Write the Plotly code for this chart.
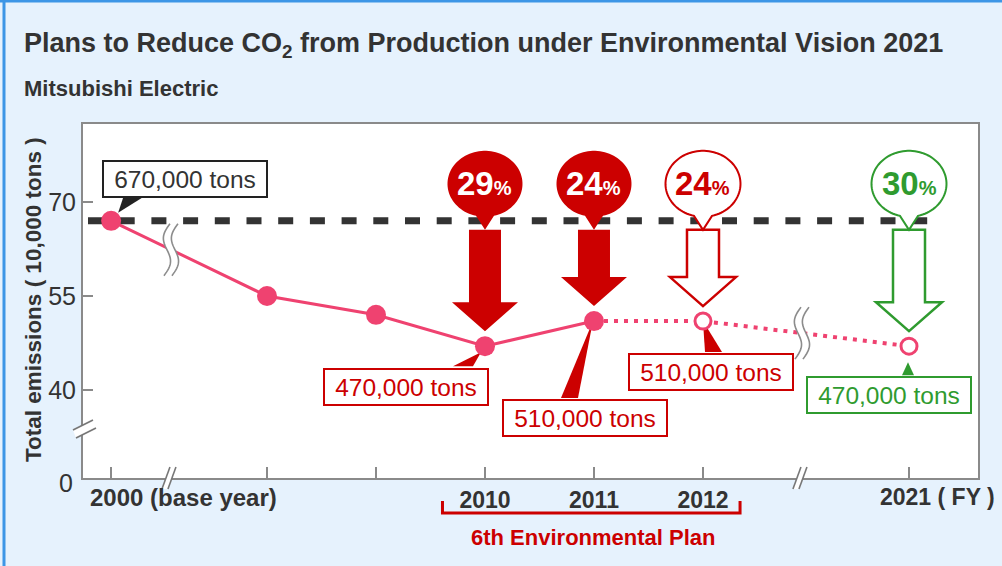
import numpy as np
import plotly.graph_objects as go

# ---------------- data ----------------
years = [2000, 2008, 2009, 2010, 2011, 2012, 2021]
emissions = [67, 55, 52, 47, 51, 51, 47]            # 10,000 tons
is_actual = [True, True, True, True, True, False, False]
x_tick_labels = ["2000 (base year)", "", "", "2010", "2011", "2012", "2021 ( FY )"]
y_tick_values = [70, 55, 40]
y_tick_labels = ["70", "55", "40"]
y_zero_label = "0"
base_year_value = 67
callout_years = [2010, 2011, 2012, 2021]
callout_pcts = [29, 24, 24, 30]
callout_styles = ["filled", "filled", "outline", "green"]
label_years = [2000, 2010, 2011, 2012, 2021]
label_texts = ["670,000 tons", "470,000 tons", "510,000 tons", "510,000 tons", "470,000 tons"]
label_styles = ["black", "red", "red", "red", "green"]
plan_years = [2010, 2011, 2012]
plan_name = "6th Environmental Plan"
title = "Plans to Reduce CO<sub>2</sub> from Production under Environmental Vision 2021"
subtitle = "Mitsubishi Electric"
y_title = "Total emissions ( 10,000 tons )"

# ---------------- layout constants ----------------
W_FIG, H_FIG = 1002, 566
L, R, T, B = 83, 24, 124, 88
PW, PH = W_FIG - L - R, H_FIG - T - B
FONT = "Liberation Sans, Arial, sans-serif"
DARK = "#333333"
PINK = "#ef4270"
RED = "#cc0000"
GREEN = "#2f9b2f"
AXIS = "#8a8a8a"

# broken x axis: years 2008-2012 are linear, with compressed gaps before/after
GAP_BEFORE, GAP_AFTER = 1.43, 1.89
def xpos(yr):
    if yr < 2008:
        return 2008 - GAP_BEFORE
    if yr <= 2012:
        return yr
    return 2012 + GAP_AFTER + (yr - 2021)

X = [xpos(y) for y in years]
x_range = [X[0] - 0.258, X[-1] + 0.633]
y_range = [25.96, 82.45]
PXY = PH / (y_range[1] - y_range[0])
PXX = PW / (x_range[1] - x_range[0])
break_x = [xpos(2008) - 0.881, xpos(2012) + 0.908]
break_y_value = 34.1

def pap_x(px):
    return (px - L) / PW
def pap_y(py):
    return (H_FIG - B - py) / PH

fig = go.Figure()

# baseline (base-year level) dashed line
fig.add_trace(go.Scatter(
    x=[x_range[0] + 5 / PXX, X[-1] + 0.3], y=[base_year_value] * 2, mode="lines",
    line=dict(color=DARK, width=7, dash="15px,16.7px"), hoverinfo="skip", showlegend=False))

last_actual = max(i for i, a in enumerate(is_actual) if a)
# projection (dotted)
fig.add_trace(go.Scatter(
    x=X[last_actual:], y=emissions[last_actual:], mode="lines",
    line=dict(color=PINK, width=4, dash="4px,6px"), hoverinfo="skip", showlegend=False))
# actual (solid)
fig.add_trace(go.Scatter(
    x=X[:last_actual + 1], y=emissions[:last_actual + 1], mode="lines+markers",
    line=dict(color=PINK, width=3), marker=dict(size=20, color=PINK),
    hoverinfo="skip", showlegend=False))

shapes = []
annotations = []

def poly(points):
    return "M " + " L ".join(f"{x:.2f},{y:.2f}" for x, y in points) + " Z"

def line_path(points):
    return "M " + " L ".join(f"{x:.2f},{y:.2f}" for x, y in points)

# label tails (below traces so markers sit on top)
tails = {
    2000: [(12, 23), (31, 23), (7, 8)],
    2010: [(-32, -20), (-12, -20), (-4, -6)],
    2011: [(-33, -77), (-16, -77), (-1, 0)],
    2012: [(2, -31), (19, -31), (0, 0)],
    2021: [(-7, -29), (5, -29), (-1, -16)],
}
box_offsets = {2000: (73.5, 41.5), 2010: (-78.5, -40.5), 2011: (-9, -97),
               2012: (8.5, -51), 2021: (-20.5, -49)}
style_col = {"black": "#222222", "red": RED, "green": GREEN}
for yr, txt, st in zip(label_years, label_texts, label_styles):
    i = years.index(yr)
    col = style_col[st]
    shapes.append(dict(type="path", xref="x", yref="y", xsizemode="pixel", ysizemode="pixel",
                       xanchor=X[i], yanchor=emissions[i], path=poly(tails[yr]),
                       fillcolor=col, line=dict(width=0), layer="below"))
    dx, dy = box_offsets[yr]
    annotations.append(dict(x=X[i], y=emissions[i], xref="x", yref="y", xshift=dx, yshift=dy,
                            xanchor="center", yanchor="middle",
                            text=txt, showarrow=False, width=162, height=34,
                            bgcolor="white", bordercolor=col, borderwidth=2, borderpad=0,
                            font=dict(family=FONT, size=24.5, color=DARK if st == "black" else col)))

# projected (open) markers
proj_idx = [i for i, a in enumerate(is_actual) if not a]
fig.add_trace(go.Scatter(
    x=[X[i] for i in proj_idx], y=[emissions[i] for i in proj_idx], mode="markers",
    marker=dict(size=16, color="white", line=dict(color=PINK, width=3)),
    hoverinfo="skip", showlegend=False))

# arrows and speech bubbles
HEAD_H, SHAFT_HW, HEAD_HW, TIP = 29, 16, 33, 15
for yr, pct, st in zip(callout_years, callout_pcts, callout_styles):
    i = years.index(yr)
    v = emissions[i]
    top = (base_year_value - v) * PXY - 9
    hb = TIP + HEAD_H
    arrow = [(-SHAFT_HW, top), (SHAFT_HW, top), (SHAFT_HW, hb), (HEAD_HW, hb), (0, TIP),
             (-HEAD_HW, hb), (-SHAFT_HW, hb)]
    col = GREEN if st == "green" else RED
    filled = st == "filled"
    shapes.append(dict(type="path", xref="x", yref="y", xsizemode="pixel", ysizemode="pixel",
                       xanchor=X[i], yanchor=v, path=poly(arrow),
                       fillcolor=col if filled else "white",
                       line=dict(color=col, width=0 if filled else 2.5), layer="above"))
    # bubble (ellipse + tail)
    cy, rx, ry, tail_hw, tail_tip = 37, 37.5, 33, 9, -9
    a0 = np.arccos(tail_hw / rx)
    angs = np.linspace(-a0, -np.pi + a0 + 2 * np.pi, 90)
    pts = [(rx * np.cos(a), cy + ry * np.sin(a)) for a in angs]
    pts.append((0, tail_tip))
    shapes.append(dict(type="path", xref="x", yref="y", xsizemode="pixel", ysizemode="pixel",
                       xanchor=X[i], yanchor=base_year_value, path=poly(pts),
                       fillcolor=col if filled else "white",
                       line=dict(color=col, width=0 if filled else 2), layer="above"))
    tcol = "white" if filled else col
    annotations.append(dict(x=X[i], y=base_year_value, xref="x", yref="y", yshift=cy,
                            xanchor="center", yanchor="middle",
                            text=f"<b>{pct}</b><span style='font-size:20px'><b>%</b></span>",
                            showarrow=False, font=dict(family=FONT, size=33, color=tcol)))

# wavy break marks on the series line
def wave(dx):
    t = np.linspace(0, 1, 30)
    return [(dx + 3 - 6 * s - 5 * np.sin(2 * np.pi * s), 26 - 52 * s) for s in t]
for bx in break_x:
    by = float(np.interp(bx, X, emissions))
    left, right = wave(-4), wave(4)
    common = dict(type="path", xref="x", yref="y", xsizemode="pixel", ysizemode="pixel",
                  xanchor=bx, yanchor=by, layer="above")
    shapes.append(dict(common, path=poly(left + right[::-1]), fillcolor="white", line=dict(width=0)))
    shapes.append(dict(common, path=line_path(left), line=dict(color="#8c8c8c", width=1.6)))
    shapes.append(dict(common, path=line_path(right), line=dict(color="#8c8c8c", width=1.6)))

# axis break marks
yl1, yl2 = [(-10, -3), (10, 7)], [(-7, -11), (13, -1)]
common = dict(type="path", xref="paper", yref="y", xsizemode="pixel", ysizemode="pixel",
              xanchor=0, yanchor=break_y_value, layer="above")
shapes.append(dict(common, path=poly(yl1 + yl2[::-1]), fillcolor="white", line=dict(width=0)))
shapes.append(dict(common, path=line_path(yl1), line=dict(color="#777", width=1.6)))
shapes.append(dict(common, path=line_path(yl2), line=dict(color="#777", width=1.6)))
xl1, xl2 = [(-9, -11), (-1, 11)], [(-3, -11), (5, 11)]
for bx in break_x:
    common = dict(type="path", xref="x", yref="paper", xsizemode="pixel", ysizemode="pixel",
                  xanchor=bx, yanchor=0, layer="above")
    shapes.append(dict(common, path=poly(xl1 + xl2[::-1]), fillcolor="white", line=dict(width=0)))
    shapes.append(dict(common, path=line_path(xl1), line=dict(color="#777", width=1.6)))
    shapes.append(dict(common, path=line_path(xl2), line=dict(color="#777", width=1.6)))

# 6th environmental plan bracket
bx0, bx1 = xpos(plan_years[0]) - 0.39, xpos(plan_years[-1]) + 0.34
shapes.append(dict(type="path", xref="x", yref="paper", ysizemode="pixel", yanchor=0,
                   path=f"M {bx0},-23 L {bx0},-35 L {bx1},-35 L {bx1},-23",
                   line=dict(color=RED, width=3), layer="above"))
annotations.append(dict(x=xpos(plan_years[1]), y=0, xref="x", yref="paper", yshift=-59,
                        xanchor="center", yanchor="middle",
                        text=f"<b>{plan_name}</b>", showarrow=False,
                        font=dict(family=FONT, size=22, color=RED)))

# x tick labels for the end years (left aligned)
annotations.append(dict(x=X[0], y=0, xref="x", yref="paper", xshift=-23, yshift=-19,
                        xanchor="left", yanchor="middle", text=f"<b>{x_tick_labels[0]}</b>",
                        showarrow=False, font=dict(family=FONT, size=24, color=DARK)))
annotations.append(dict(x=X[-1], y=0, xref="x", yref="paper", xshift=-31, yshift=-19,
                        xanchor="left", yanchor="middle", text=f"<b>{x_tick_labels[-1]}</b>",
                        showarrow=False, font=dict(family=FONT, size=23, color=DARK)))
annotations.append(dict(x=0, y=y_range[0], xref="paper", yref="y", xshift=-8, yshift=-5,
                        xanchor="right", yanchor="middle", text=y_zero_label, showarrow=False,
                        font=dict(family=FONT, size=25, color=DARK)))

# titles
annotations.append(dict(x=pap_x(22), y=pap_y(45), xref="paper", yref="paper", xanchor="left",
                        yanchor="middle", text=f"<b>{title}</b>", showarrow=False,
                        font=dict(family=FONT, size=27, color=DARK)))
annotations.append(dict(x=pap_x(22), y=pap_y(88), xref="paper", yref="paper", xanchor="left",
                        yanchor="middle", text=f"<b>{subtitle}</b>", showarrow=False,
                        font=dict(family=FONT, size=22, color=DARK)))
annotations.append(dict(x=pap_x(33), y=pap_y(300), xref="paper", yref="paper", textangle=-90,
                        xanchor="center", yanchor="middle",
                        text=f"<b>{y_title}</b>", showarrow=False,
                        font=dict(family=FONT, size=22.5, color=DARK)))

# outer blue frame lines
shapes.append(dict(type="line", xref="paper", yref="paper", x0=pap_x(4), x1=pap_x(4),
                   y0=pap_y(H_FIG + 5), y1=pap_y(-5), line=dict(color="#3d96e6", width=3)))
shapes.append(dict(type="line", xref="paper", yref="paper", x0=pap_x(-5), x1=pap_x(W_FIG + 5),
                   y0=pap_y(1), y1=pap_y(1), line=dict(color="#3d96e6", width=3)))

labeled = [i for i, t in enumerate(x_tick_labels) if t and 0 < i < len(X) - 1]
unlabeled = [i for i in range(len(X)) if i not in labeled]

fig.update_layout(
    width=W_FIG, height=H_FIG,
    margin=dict(l=L, r=R, t=T, b=B, autoexpand=False),
    paper_bgcolor="#e6f2fd", plot_bgcolor="white",
    showlegend=False, shapes=shapes, annotations=annotations,
    font=dict(family=FONT, color=DARK),
    xaxis=dict(range=x_range, showgrid=False, zeroline=False, showline=True, mirror=True,
               linecolor=AXIS, linewidth=2, ticks="inside", ticklen=11, tickcolor=AXIS,
               tickwidth=1.5, tickmode="array", tickvals=[X[i] for i in labeled],
               ticktext=[f"<b>{x_tick_labels[i]}</b>" for i in labeled],
               minor=dict(tickmode="array", tickvals=[X[i] for i in unlabeled], ticks="inside",
                          ticklen=11, tickcolor=AXIS, tickwidth=1.5, showgrid=False),
               tickfont=dict(family=FONT, size=23, color=DARK), fixedrange=True),
    yaxis=dict(range=y_range, showgrid=False, zeroline=False, showline=True, mirror=True,
               linecolor=AXIS, linewidth=2, ticks="inside", ticklen=10, tickcolor=AXIS,
               tickwidth=1.5, tickvals=y_tick_values, ticktext=y_tick_labels,
               tickfont=dict(family=FONT, size=25, color=DARK), fixedrange=True),
)

fig.write_html("out.html", config={"displayModeBar": False},
               post_script="document.body.style.margin='0px';")
